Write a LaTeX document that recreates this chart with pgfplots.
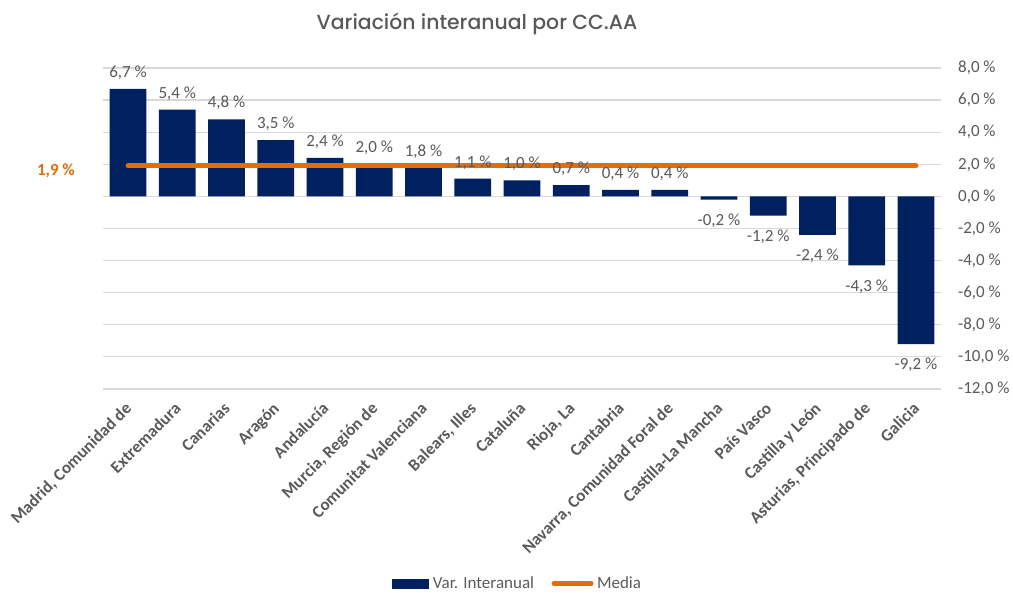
\documentclass[border=0pt]{standalone}
\usepackage{fontspec}
\setmainfont{Carlito}
\newfontfamily\titlefont{Poppins Medium}
\usepackage{pgfplots}
\pgfplotsset{compat=1.18}
\definecolor{navy}{HTML}{002060}
\definecolor{orng}{HTML}{E46C0A}
\definecolor{txt}{HTML}{595959}
\definecolor{gridc}{HTML}{D9D9D9}
\newcommand\fs{\fontsize{17}{20}\selectfont}
\begin{document}
\begin{tikzpicture}[x=1pt,y=1pt]
\useasboundingbox (0,0) rectangle (1013,593);
\node[font=\titlefont\fontsize{20.4}{23}\selectfont, text=txt] at (477,569) {Variación interanual por CC.AA};
\begin{axis}[
  at={(103.4pt,204pt)}, anchor=south west,
  scale only axis, width=837.2pt, height=321pt,
  xmin=-0.5, xmax=16.5, ymin=-12, ymax=8,
  ytick={-12,-10,...,8},
  xtick={0,...,16},
  xticklabels={{Madrid, Comunidad de},Extremadura,Canarias,Aragón,Andalucía,{Murcia, Región de},Comunitat Valenciana,{Balears, Illes},Cataluña,{Rioja, La},Cantabria,{Navarra, Comunidad Foral de},Castilla-La Mancha,País Vasco,Castilla y León,{Asturias, Principado de},Galicia},
  axis line style={draw=none},
  major tick length=0pt,
  ymajorgrids, grid style={gridc, line width=1.2pt},
  yticklabel pos=right,
  /pgf/number format/assume math mode=true,
  yticklabel={\pgfmathprintnumber[fixed,fixed zerofill,precision=1,use comma]{\tick} \%},
  yticklabel style={font=\fs, text=txt, anchor=west, xshift=14pt},
  xticklabel style={font=\fs\bfseries, text=txt, yshift=-12pt, xshift=-4pt, rotate=45, anchor=north east, inner sep=0pt},
  legend style={at={(0.494,-0.606)}, anchor=center, draw=none, fill=none, font=\fs, text=txt, legend columns=2, nodes={inner sep=0.5pt}, /tikz/every odd column/.append style={column sep=3pt}, /tikz/every even column/.append style={column sep=17pt}},
  clip=false,
]
\addplot[ybar, bar width=0.75, fill=navy, draw=none,
  point meta=y,
  visualization depends on={y \as \rawy},
  nodes near coords={\pgfmathprintnumber[fixed,fixed zerofill,precision=1,use comma]{\pgfplotspointmeta} \%},
  nodes near coords align=vertical,
  every node near coord/.append style={font=\fs, text=txt, inner sep=7pt, yshift={ifthenelse(\rawy<0,-7,2)}},
  legend image code/.code={\fill[navy] (0pt,-5pt) rectangle (37pt,5pt);}]
coordinates {(0,6.7) (1,5.4) (2,4.8) (3,3.5) (4,2.4) (5,2.0) (6,1.8) (7,1.1) (8,1.0) (9,0.7) (10,0.4) (11,0.4) (12,-0.2) (13,-1.2) (14,-2.4) (15,-4.3) (16,-9.2)};
\addlegendentry{Var. Interanual}
\addplot[orng, line width=5pt, line cap=round, mark=none,
  legend image code/.code={\draw[orng, line width=5pt, line cap=round] (2pt,0pt) -- (39pt,0pt);}]
coordinates {(0,1.9) (16,1.9)};
\addlegendentry{Media}
\node[anchor=east, xshift=-25pt, yshift=-5pt, font=\fs\bfseries, text=orng] at (axis cs:-0.5,1.9) {1,9 \%};
\end{axis}
\end{tikzpicture}
\end{document}
